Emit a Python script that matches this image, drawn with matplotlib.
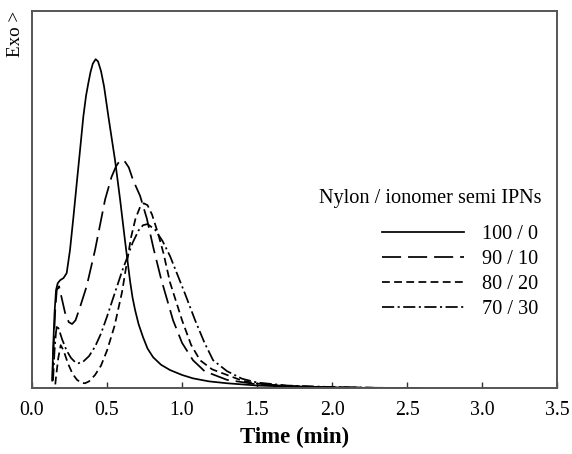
import matplotlib
matplotlib.use("Agg")
import matplotlib.pyplot as plt

# DSC exotherms (time in min, heat flow in arbitrary units)
t_100 = [0.135, 0.14, 0.15, 0.16, 0.171, 0.187, 0.21, 0.231, 0.253, 0.276, 0.298, 0.32,
         0.342, 0.36, 0.375, 0.39, 0.405, 0.424, 0.44, 0.46, 0.48, 0.509, 0.53, 0.553,
         0.587, 0.62, 0.653, 0.67, 0.687, 0.71, 0.74, 0.77, 0.807, 0.86, 0.92, 1.0,
         1.073, 1.18, 1.3, 1.5, 1.8, 2.2, 2.6]
y_100 = [0.02, 0.10, 0.20, 0.26, 0.278, 0.286, 0.292, 0.305, 0.366, 0.454, 0.543, 0.631,
         0.72, 0.775, 0.808, 0.838, 0.86, 0.872, 0.866, 0.84, 0.80, 0.72, 0.665, 0.605,
         0.50, 0.39, 0.285, 0.24, 0.207, 0.17, 0.135, 0.105, 0.082, 0.062, 0.048, 0.035,
         0.026, 0.018, 0.013, 0.007, 0.003, 0.001, 0.0]

t_90 = [0.135, 0.145, 0.155, 0.165, 0.18, 0.20, 0.22, 0.245, 0.267, 0.29, 0.32, 0.364,
        0.42, 0.487, 0.53, 0.56, 0.58, 0.60, 0.62, 0.645, 0.673, 0.72, 0.765, 0.81,
        0.86, 0.90, 0.94, 1.0, 1.073, 1.15, 1.3, 1.5, 1.8, 2.2, 2.6]
y_90 = [0.02, 0.12, 0.21, 0.26, 0.27, 0.235, 0.20, 0.175, 0.17, 0.18, 0.215, 0.27,
        0.366, 0.50, 0.56, 0.588, 0.600, 0.605, 0.600, 0.585, 0.552, 0.51, 0.45, 0.37,
        0.29, 0.235, 0.18, 0.12, 0.074, 0.045, 0.022, 0.01, 0.004, 0.001, 0.0]

t_80 = [0.155, 0.16, 0.175, 0.191, 0.21, 0.24, 0.27, 0.30, 0.33, 0.353, 0.38, 0.42,
        0.46, 0.50, 0.55, 0.60, 0.633, 0.66, 0.69, 0.72, 0.745, 0.77, 0.80, 0.84,
        0.876, 0.92, 1.0, 1.06, 1.12, 1.2, 1.3, 1.4, 1.5, 1.7, 2.0, 2.3, 2.6]
y_80 = [0.01, 0.03, 0.08, 0.114, 0.10, 0.065, 0.038, 0.022, 0.014, 0.013, 0.018, 0.035,
        0.06, 0.10, 0.165, 0.255, 0.335, 0.40, 0.45, 0.48, 0.49, 0.485, 0.46, 0.41,
        0.358, 0.28, 0.18, 0.115, 0.074, 0.05, 0.035, 0.02, 0.012, 0.006, 0.002, 0.001, 0.0]

t_70 = [0.14, 0.15, 0.16, 0.167, 0.18, 0.20, 0.23, 0.26, 0.29, 0.307, 0.34, 0.38,
        0.42, 0.46, 0.50, 0.55, 0.60, 0.633, 0.67, 0.71, 0.74, 0.77, 0.82, 0.87,
        0.92, 0.97, 1.02, 1.087, 1.15, 1.207, 1.3, 1.4, 1.5, 1.7, 2.0, 2.3, 2.6]
y_70 = [0.02, 0.10, 0.15, 0.167, 0.155, 0.13, 0.10, 0.08, 0.068, 0.066, 0.07, 0.085,
        0.11, 0.145, 0.19, 0.25, 0.31, 0.345, 0.385, 0.418, 0.432, 0.435, 0.42, 0.39,
        0.35, 0.30, 0.25, 0.18, 0.12, 0.074, 0.045, 0.025, 0.015, 0.007, 0.003, 0.001, 0.0]

labels = ["100 / 0", "90 / 10", "80 / 20", "70 / 30"]
legend_title = "Nylon / ionomer semi IPNs"
xticks = [0.0, 0.5, 1.0, 1.5, 2.0, 2.5, 3.0, 3.5]

plt.rcParams["font.family"] = ["Liberation Serif", "DejaVu Serif"]

fig = plt.figure(figsize=(5.72, 4.54), dpi=100)
ax = fig.add_axes([0.056, 0.145, 0.918, 0.831])

lw = 1.25
ax.plot(t_100, y_100, color="black", lw=lw, label=labels[0])
ax.plot(t_90, y_90, color="black", lw=lw, dashes=(11, 4), label=labels[1])
ax.plot(t_80, y_80, color="black", lw=lw, dashes=(4.5, 2.5), label=labels[2])
ax.plot(t_70, y_70, color="black", lw=lw, dashes=(7, 2, 1.2, 2), label=labels[3])

ax.set_xlim(0, 3.5)
ax.set_ylim(0, 1.0)
ax.set_xticks(xticks)
ax.set_xticklabels([f"{v:.1f}" for v in xticks], fontsize=14.3)
ax.set_yticks([])
ax.tick_params(axis="x", direction="in", length=4, width=1, pad=9, colors="#333333")
for lab in ax.get_xticklabels():
    lab.set_color("black")
for s in ax.spines.values():
    s.set_linewidth(1.4)
    s.set_color("#555555")

ax.set_xlabel("Time (min)", fontsize=16.5, fontweight="bold", labelpad=5)
ax.text(-0.032, 1.0, "Exo >", rotation=90, ha="center", va="top",
        fontsize=13.7, transform=ax.transAxes)

ax.text(0.971, 0.502, legend_title, ha="right", va="center", fontsize=14.6,
        transform=ax.transAxes)
ax.legend(loc="upper right", bbox_to_anchor=(0.964, 0.433), frameon=False,
          fontsize=14.6, handlelength=4.05, handletextpad=0.9,
          labelspacing=0.28, borderpad=0, borderaxespad=0)

fig.savefig("out.png", dpi=100)
